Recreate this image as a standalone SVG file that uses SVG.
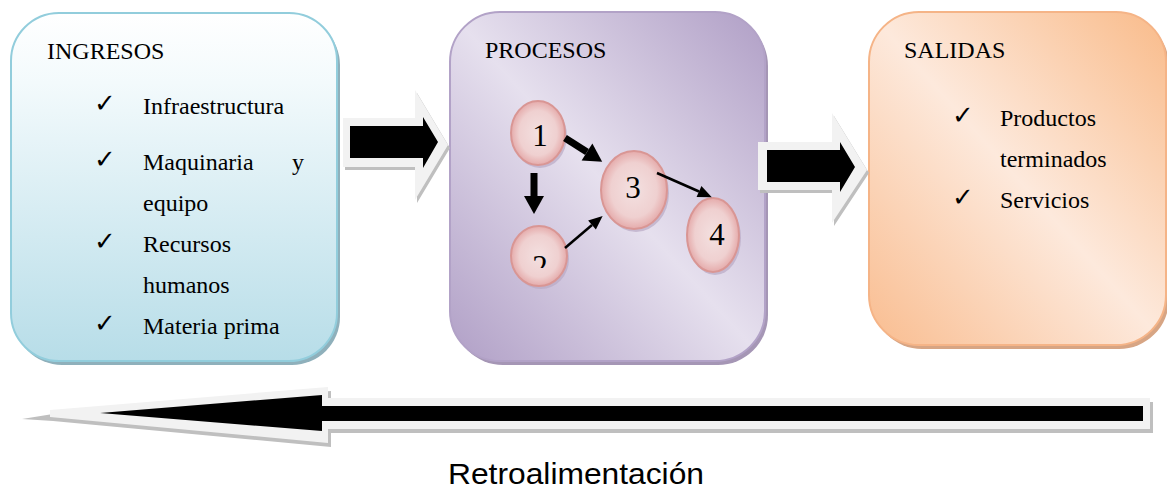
<svg xmlns="http://www.w3.org/2000/svg" width="1167" height="489" viewBox="0 0 1167 489">
<style>
.t{font-family:"Liberation Serif","Times New Roman",serif;font-size:24px;fill:#000}
.ck{font-family:"DejaVu Sans",sans-serif;font-size:26px;fill:#000}
.num{font-family:"Liberation Serif","Times New Roman",serif;font-size:31px;fill:#000;text-anchor:middle}
.node{stroke:#d99694;stroke-width:2;fill:url(#gPink)}
.nshadow{fill:#b9a9c4;opacity:0.7}
.lt{fill:#f2f2f2}
.sh{fill:#bfbfbf}
.blk{fill:#000}
.thick{stroke:#000;stroke-width:7;fill:none}
.thin{stroke:#000;stroke-width:2.5;fill:none}
</style>
<defs>
<linearGradient id="gBlue" x1="0" y1="0" x2="0" y2="1">
<stop offset="0" stop-color="#ffffff"/>
<stop offset="0.2" stop-color="#f3fafc"/>
<stop offset="1" stop-color="#b7dde8"/>
</linearGradient>
<linearGradient id="gPurple" x1="1" y1="0" x2="0" y2="1">
<stop offset="0" stop-color="#b09fc6"/>
<stop offset="0.5" stop-color="#e6e0ee"/>
<stop offset="1" stop-color="#b09fc6"/>
</linearGradient>
<linearGradient id="gOrange" x1="1" y1="0" x2="0" y2="1">
<stop offset="0" stop-color="#f9bb8a"/>
<stop offset="0.5" stop-color="#fde9dc"/>
<stop offset="1" stop-color="#f9bd90"/>
</linearGradient>
<radialGradient id="gPink" cx="0.5" cy="0.5" r="0.5">
<stop offset="0" stop-color="#f3e0e0"/>
<stop offset="0.7" stop-color="#efd0d0"/>
<stop offset="1" stop-color="#e5abab"/>
</radialGradient>
<marker id="hThick" markerUnits="userSpaceOnUse" markerWidth="18" markerHeight="20" refX="0" refY="10" orient="auto" overflow="visible">
<path d="M0,0 L18,10 L0,20 z" fill="#000"/>
</marker>
<marker id="hThin" markerUnits="userSpaceOnUse" markerWidth="14" markerHeight="12" refX="0" refY="6" orient="auto" overflow="visible">
<path d="M0,0 L14,6 L0,12 z" fill="#000"/>
</marker>
<clipPath id="clip2"><rect x="500" y="200" width="80" height="68"/></clipPath>
</defs>

<g id="ingresos">
<rect x="14" y="17" width="326" height="348" rx="48" fill="#8fb0bb"/>
<rect x="11" y="13" width="326" height="348" rx="48" fill="url(#gBlue)" stroke="#92cddc" stroke-width="2"/>
<text class="t" x="47" y="59">INGRESOS</text>
<text class="ck" x="94" y="112">✓</text>
<text class="t" x="143" y="114">Infraestructura</text>
<text class="ck" x="94" y="168">✓</text>
<text class="t" x="143" y="170">Maquinaria</text>
<text class="t" x="292" y="170">y</text>
<text class="t" x="143" y="211">equipo</text>
<text class="ck" x="94" y="250">✓</text>
<text class="t" x="143" y="252">Recursos</text>
<text class="t" x="143" y="293">humanos</text>
<text class="ck" x="94" y="332">✓</text>
<text class="t" x="143" y="334">Materia prima</text>
</g>

<g id="procesos">
<rect x="453" y="16" width="315" height="349" rx="50" fill="#a596b5"/>
<rect x="450" y="12" width="315" height="349" rx="50" fill="url(#gPurple)" stroke="#b2a2c7" stroke-width="2"/>
<text class="t" x="485" y="58">PROCESOS</text>
</g>

<g id="n1">
<ellipse cx="540" cy="136" rx="27" ry="32" class="nshadow"/>
<ellipse cx="538" cy="133" rx="27" ry="32" class="node"/>
<text class="num" x="540" y="146">1</text>
</g>
<g id="n2">
<ellipse cx="541" cy="259" rx="28" ry="30" class="nshadow"/>
<ellipse cx="539" cy="256" rx="28" ry="30" class="node"/>
<text class="num" x="540" y="277" clip-path="url(#clip2)">2</text>
</g>
<g id="n3">
<ellipse cx="636" cy="193" rx="33" ry="39" class="nshadow"/>
<ellipse cx="634" cy="190" rx="33" ry="39" class="node"/>
<text class="num" x="633" y="198">3</text>
</g>
<g id="n4">
<ellipse cx="715" cy="238" rx="26" ry="37" class="nshadow"/>
<ellipse cx="713" cy="235" rx="26" ry="37" class="node"/>
<text class="num" x="717" y="245">4</text>
</g>

<g id="salidas">
<rect x="872" y="16" width="297" height="333" rx="50" fill="#d7a584"/>
<rect x="869" y="12" width="297" height="333" rx="50" fill="url(#gOrange)" stroke="#f5b487" stroke-width="2"/>
<text class="t" x="904" y="58">SALIDAS</text>
<text class="ck" x="952" y="124">✓</text>
<text class="t" x="1000" y="126">Productos</text>
<text class="t" x="1000" y="167">terminados</text>
<text class="ck" x="952" y="206">✓</text>
<text class="t" x="1000" y="208">Servicios</text>
</g>

<g id="connectors">
<line class="thick" x1="534" y1="173" x2="534" y2="196" marker-end="url(#hThick)"/>
<line class="thick" x1="565" y1="138" x2="587" y2="152" marker-end="url(#hThick)"/>
<line class="thin" x1="565" y1="248" x2="592" y2="225" marker-end="url(#hThin)"/>
<line class="thin" x1="657" y1="173" x2="699" y2="191.5" marker-end="url(#hThin)"/>

<g id="arrow-ingresos-procesos">
<polygon class="sh" points="345,121 417,121 417,93 450,148 417,203 417,170 345,170"/>
<polygon class="lt" points="343,118 415,118 415,90 448,145 415,200 415,167 343,167"/>
<polygon class="blk" points="350,126 423,126 423,117 438,142 423,168 423,158 350,158"/>
</g>
<g id="arrow-procesos-salidas">
<polygon class="sh" points="760,145 834,145 834,116 869,173 834,226 834,193 760,193"/>
<polygon class="lt" points="758,142 832,142 832,113 867,170 832,223 832,190 758,190"/>
<polygon class="blk" points="767,150 840,150 840,142 855,167 840,192 840,182 767,182"/>
</g>
<g id="arrow-retro">
<polygon class="sh" points="1153,402 331,402 331,391 53,414 22,419 53,421 331,447 331,433 1153,433"/>
<polygon class="lt" points="1150,398 328,398 328,387 50,410 50,417 328,443 328,429 1150,429"/>
<polygon class="blk" points="1143,406 322,406 322,395 100,413 322,431 322,421 1143,421"/>
</g>
</g>

<text x="448" y="484" font-family="Liberation Sans, Arial, sans-serif" font-size="29" textLength="256" lengthAdjust="spacingAndGlyphs" fill="#000">Retroalimentación</text>
</svg>
